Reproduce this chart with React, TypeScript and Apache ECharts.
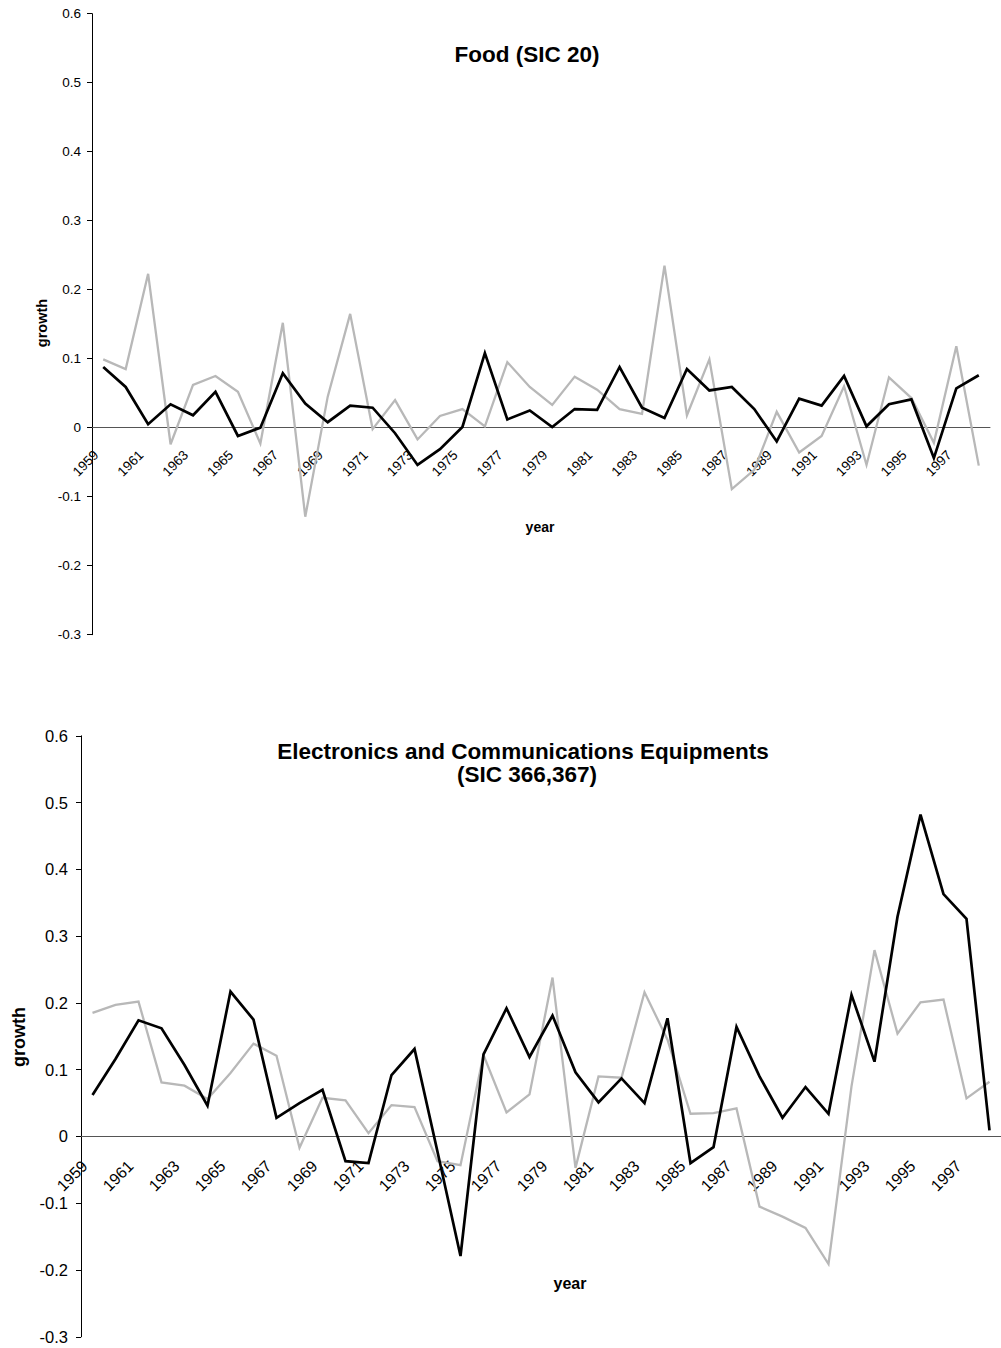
import React, { useEffect, useRef } from "react";
import * as echarts from "echarts";

const years = ["1959","1960","1961","1962","1963","1964","1965","1966","1967","1968","1969","1970","1971","1972","1973","1974","1975","1976","1977","1978","1979","1980","1981","1982","1983","1984","1985","1986","1987","1988","1989","1990","1991","1992","1993","1994","1995","1996","1997","1998"];

const foodBlack = [0.088,0.059,0.005,0.034,0.018,0.052,-0.012,0.000,0.079,0.035,0.008,0.032,0.029,-0.008,-0.054,-0.031,0.001,0.108,0.012,0.025,0.001,0.027,0.026,0.088,0.029,0.014,0.085,0.054,0.059,0.027,-0.020,0.042,0.032,0.075,0.002,0.034,0.041,-0.044,0.057,0.076];
const foodGray = [0.099,0.085,0.223,-0.024,0.062,0.075,0.052,-0.023,0.152,-0.129,0.045,0.165,-0.002,0.040,-0.017,0.017,0.027,0.002,0.095,0.059,0.033,0.074,0.055,0.027,0.020,0.235,0.018,0.099,-0.089,-0.061,0.023,-0.036,-0.012,0.060,-0.054,0.073,0.043,-0.022,0.118,-0.055];
const elecBlack = [0.062,0.116,0.174,0.162,0.107,0.046,0.217,0.175,0.028,0.050,0.070,-0.037,-0.040,0.092,0.131,-0.023,-0.179,0.123,0.192,0.119,0.181,0.096,0.051,0.087,0.050,0.177,-0.040,-0.016,0.164,0.090,0.028,0.074,0.034,0.212,0.112,0.329,0.482,0.363,0.326,0.009];
const elecGray = [0.185,0.197,0.202,0.081,0.076,0.056,0.095,0.139,0.121,-0.017,0.058,0.054,0.005,0.047,0.044,-0.037,-0.043,0.122,0.036,0.063,0.238,-0.047,0.090,0.088,0.216,0.145,0.034,0.035,0.042,-0.105,-0.120,-0.137,-0.191,0.075,0.279,0.154,0.201,0.205,0.057,0.082];

const titleTop = "Food (SIC 20)";
const titleBottom1 = "Electronics and Communications Equipments";
const titleBottom2 = "(SIC 366,367)";

const FONT = '"Liberation Sans", Arial, sans-serif';
const GRAY = "#b8b8b8";

function xAxisCfg(gridIndex: number, fontSize: number, margin: number, pad: number, offset: number) {
  return {
    type: "category",
    gridIndex,
    position: "bottom",
    offset,
    data: years,
    boundaryGap: true,
    axisLine: { onZero: false, lineStyle: { color: "#555", width: 1 } },
    axisTick: { interval: 0, length: 4, lineStyle: { color: "#333" } },
    axisLabel: {
      interval: 1,
      rotate: 45,
      margin,
      padding: [0, pad, 0, 0],
      color: "#000",
      fontSize,
      fontFamily: FONT,
    },
    splitLine: { show: false },
  };
}

function yAxisCfg(gridIndex: number, fontSize: number, margin: number) {
  return {
    type: "value",
    gridIndex,
    min: -0.3,
    max: 0.6,
    interval: 0.1,
    axisLine: { show: true, onZero: false, lineStyle: { color: "#000", width: 1 } },
    axisTick: { show: true, length: 5, lineStyle: { color: "#000" } },
    axisLabel: {
      margin,
      color: "#000",
      fontSize,
      fontFamily: FONT,
      formatter: (v: number) => String(Math.round(v * 10) / 10),
    },
    splitLine: { show: false },
  };
}

function lineSeries(idx: number, data: number[], color: string, width: number, z: number) {
  return {
    type: "line",
    xAxisIndex: idx,
    yAxisIndex: idx,
    data,
    symbol: "none",
    lineStyle: { color, width, join: "miter" },
    z,
  };
}

const topH = 621;
const botH = 601;
const topZeroOffset = -(topH * 3) / 9;
const botZeroOffset = -(botH * 3) / 9;

export default function App() {
  const ref = useRef<HTMLDivElement>(null);
  useEffect(() => {
    if (!ref.current) return;
    const chart = echarts.init(ref.current, undefined, { renderer: "svg" });
    chart.setOption({
      animation: false,
      backgroundColor: "#fff",
      grid: [
        { left: 92, top: 13.7, width: 898, height: topH },
        { left: 81, top: 735.8, width: 927, height: botH },
      ],
      xAxis: [xAxisCfg(0, 13.5, 18, 10, topZeroOffset), xAxisCfg(1, 16, 19, 11, botZeroOffset)],
      yAxis: [yAxisCfg(0, 13.5, 11), yAxisCfg(1, 16.5, 13)],
      series: [
        lineSeries(0, foodGray, GRAY, 2.3, 2),
        lineSeries(0, foodBlack, "#000", 2.7, 3),
        lineSeries(1, elecGray, GRAY, 2.3, 2),
        lineSeries(1, elecBlack, "#000", 2.7, 3),
      ],
      graphic: [
        {
          type: "text",
          x: 527,
          y: 54,
          style: { text: titleTop, font: `bold 22.5px ${FONT}`, fill: "#000", textAlign: "center", textVerticalAlign: "middle" },
        },
        {
          type: "text",
          x: 523,
          y: 751,
          style: { text: titleBottom1, font: `bold 22.5px ${FONT}`, fill: "#000", textAlign: "center", textVerticalAlign: "middle" },
        },
        {
          type: "text",
          x: 527,
          y: 774,
          style: { text: titleBottom2, font: `bold 22.5px ${FONT}`, fill: "#000", textAlign: "center", textVerticalAlign: "middle" },
        },
        {
          type: "text",
          x: 42,
          y: 323,
          rotation: Math.PI / 2,
          style: { text: "growth", font: `bold 14.5px ${FONT}`, fill: "#000", textAlign: "center", textVerticalAlign: "middle" },
        },
        {
          type: "text",
          x: 19,
          y: 1037,
          rotation: Math.PI / 2,
          style: { text: "growth", font: `bold 18px ${FONT}`, fill: "#000", textAlign: "center", textVerticalAlign: "middle" },
        },
        {
          type: "text",
          x: 540,
          y: 527,
          style: { text: "year", font: `bold 14px ${FONT}`, fill: "#000", textAlign: "center", textVerticalAlign: "middle" },
        },
        {
          type: "text",
          x: 570,
          y: 1283,
          style: { text: "year", font: `bold 16px ${FONT}`, fill: "#000", textAlign: "center", textVerticalAlign: "middle" },
        },
      ],
    });
    return () => chart.dispose();
  }, []);
  return (
    <div
      ref={ref}
      style={{ position: "absolute", left: 0, top: 0, width: 1001, height: 1348, background: "#fff" }}
    />
  );
}
